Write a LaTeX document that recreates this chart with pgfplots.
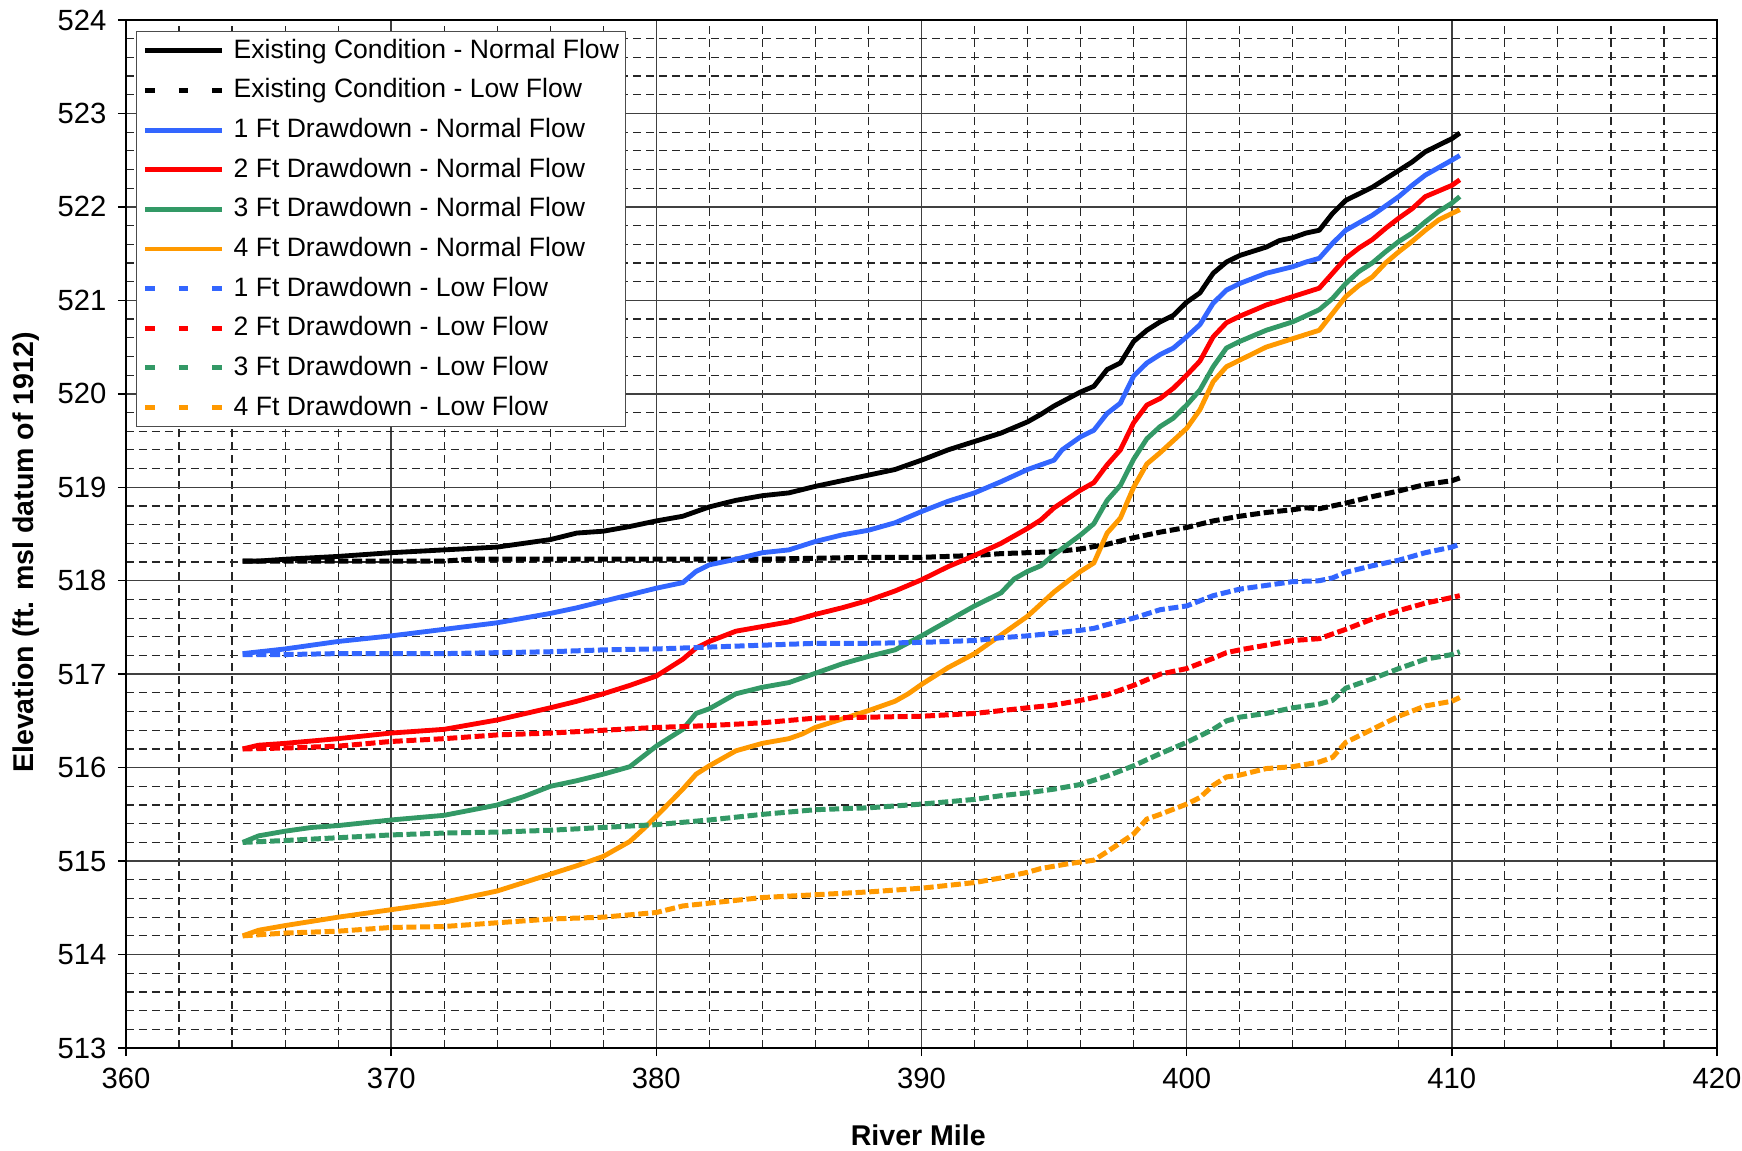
\documentclass[border=0pt]{standalone}
\usepackage{fontspec}
\setmainfont{Liberation Sans}
\usepackage{pgfplots}
\pgfplotsset{compat=1.18}
\definecolor{cblue}{RGB}{51,102,255}
\definecolor{cred}{RGB}{255,0,0}
\definecolor{cgreen}{RGB}{51,153,102}
\definecolor{corange}{RGB}{255,153,0}
\begin{document}
\begin{tikzpicture}
\begin{axis}[
 scale only axis, width=477.3bp, height=308.4bp,
 xmin=360, xmax=420, ymin=513, ymax=524,
 xtick={360,370,...,420}, ytick={513,514,...,524},
 minor x tick num=4, minor y tick num=4,
 grid=both,
 major grid style={black!75, line width=0.45bp},
 minor grid style={black!85, line width=0.35bp, dash pattern=on 2.5bp off 1.4bp},
 axis line style={black, line width=0.55bp},
 tick style={black, line width=0.45bp},
 major tick length=2.4bp, minor tick length=0pt,
 tick align=outside, xtick pos=left, ytick pos=left,
 ticklabel style={font=\fontsize{8.8}{10}\selectfont},
 /pgf/number format/assume math mode=true,
 /pgf/number format/1000 sep={},
 xlabel={River Mile},
 ylabel={Elevation (ft. msl datum of 1912)},
 label style={font=\bfseries\fontsize{8.6}{10}\selectfont},
 xlabel style={at={(axis description cs:0.498,-0.0851)}, anchor=center},
 ylabel style={at={(axis description cs:-0.0629,0.482)}, anchor=center},
 legend cell align=left,
 legend style={at={(axis description cs:0,1)}, anchor=north west, xshift=2.9bp, yshift=-3.3bp,
   draw=black!70, fill=white, inner xsep=2bp, inner ysep=1.5bp,
   font=\fontsize{8.0}{9}\selectfont,
   nodes={inner sep=0pt, text height=6.5bp, text depth=2bp, anchor=west},
   row sep=3.39bp,
   /tikz/every odd column/.append style={column sep=2.7bp}},
 legend image code/.code={\draw[#1] (0bp,0bp) -- (23bp,0bp);},
 every axis plot/.append style={line width=1.45bp, line join=round},
 lowflow/.style={line width=1.5bp, dash pattern=on 3bp off 1.1bp},
 lowleg/.style={legend image post style={dash pattern=on 2.9bp off 7.1bp}},
]
% Existing Condition - Normal Flow
\addplot[black] table {
364.4 518.21
365 518.21
366 518.23
368 518.26
370 518.30
372 518.33
374 518.36
375 518.40
376 518.44
377 518.51
378 518.53
379 518.58
380 518.64
381 518.69
382 518.79
383 518.86
384 518.91
385 518.94
386 519.01
387 519.07
388 519.13
389 519.19
390 519.29
391 519.40
392 519.49
393 519.58
394 519.70
394.5 519.78
395 519.87
396 520.02
396.5 520.08
397 520.26
397.5 520.33
398 520.56
398.5 520.68
399 520.77
399.5 520.84
400 520.98
400.5 521.08
401 521.29
401.5 521.41
402 521.48
403 521.57
403.5 521.64
404 521.67
404.5 521.72
405 521.75
405.5 521.93
406 522.07
406.5 522.14
407 522.21
407.5 522.30
408 522.39
408.5 522.48
409 522.59
409.5 522.66
410 522.73
410.3 522.79
};
\addlegendentry{Existing Condition - Normal Flow}
% Existing Condition - Low Flow
\addplot[black, lowflow, lowleg] table {
364.4 518.21
366 518.21
368 518.21
370 518.21
372 518.21
373 518.23
374 518.23
376 518.23
378 518.23
380 518.23
382 518.23
384 518.23
386 518.24
388 518.25
390 518.25
391 518.26
392 518.27
393 518.29
394 518.30
395 518.31
396 518.34
397 518.39
398 518.46
399 518.52
400 518.57
401 518.64
402 518.69
403 518.73
404 518.76
404.5 518.78
405 518.77
405.5 518.80
406 518.83
407 518.90
408 518.96
409 519.03
410 519.07
410.3 519.10
};
\addlegendentry{Existing Condition - Low Flow}
% 1 Ft - Normal
\addplot[cblue] table {
364.4 517.22
366 517.27
368 517.35
370 517.41
372 517.48
374 517.55
376 517.65
377 517.71
378 517.78
379 517.85
380 517.92
381 517.98
381.5 518.10
382 518.17
383 518.23
384 518.30
385 518.33
386 518.42
387 518.49
388 518.54
389 518.62
390 518.74
391 518.85
392 518.94
393 519.06
394 519.19
395 519.29
395.3 519.40
396 519.54
396.5 519.61
397 519.79
397.5 519.90
398 520.19
398.5 520.33
399 520.42
399.5 520.49
400 520.61
400.5 520.74
401 520.97
401.5 521.11
402 521.18
403 521.29
404 521.36
404.5 521.41
405 521.45
405.5 521.61
406 521.75
407 521.91
408 522.11
408.5 522.23
409 522.34
410 522.50
410.3 522.55
};
\addlegendentry{1 Ft Drawdown - Normal Flow}
% 2 Ft - Normal
\addplot[cred] table {
364.4 516.20
365 516.24
366 516.26
368 516.31
370 516.37
372 516.41
373 516.46
374 516.51
376 516.64
377 516.71
378 516.79
379 516.88
380 516.98
381 517.16
381.5 517.28
382 517.35
383 517.46
384 517.51
385 517.56
386 517.64
387 517.71
388 517.79
389 517.89
390 518.01
391 518.15
392 518.27
393 518.40
394 518.56
394.5 518.65
395 518.78
396 518.97
396.5 519.05
397 519.24
397.5 519.40
398 519.69
398.5 519.88
399 519.95
399.5 520.06
400 520.20
400.5 520.35
401 520.61
401.5 520.76
402 520.83
403 520.95
404 521.04
405 521.13
405.5 521.29
406 521.45
406.5 521.56
407 521.65
407.5 521.77
408 521.88
408.5 521.98
409 522.11
410 522.23
410.3 522.29
};
\addlegendentry{2 Ft Drawdown - Normal Flow}
% 3 Ft - Normal
\addplot[cgreen] table {
364.4 515.20
365 515.27
366 515.32
367 515.36
368 515.38
370 515.44
372 515.49
374 515.60
375 515.69
376 515.80
377 515.86
378 515.93
379 516.01
380 516.23
381 516.41
381.5 516.58
382 516.63
383 516.79
384 516.86
385 516.91
386 517.01
387 517.11
388 517.19
389 517.26
390 517.41
391 517.57
392 517.73
393 517.87
393.5 518.02
394 518.10
394.5 518.16
395 518.28
396 518.49
396.5 518.61
397 518.86
397.5 519.02
398 519.30
398.5 519.52
399 519.65
399.5 519.74
400 519.88
400.5 520.04
401 520.29
401.5 520.49
402 520.56
403 520.68
404 520.77
405 520.90
405.5 521.02
406 521.18
406.5 521.31
407 521.40
407.5 521.52
408 521.63
408.5 521.72
409 521.84
409.5 521.95
410 522.04
410.3 522.11
};
\addlegendentry{3 Ft Drawdown - Normal Flow}
% 4 Ft - Normal
\addplot[corange] table {
364.4 514.20
365 514.26
366 514.31
368 514.40
370 514.48
372 514.56
374 514.68
375 514.77
376 514.86
377 514.95
378 515.05
379 515.21
379.5 515.34
380 515.48
381 515.77
381.5 515.93
382 516.02
383 516.18
384 516.26
385 516.31
385.5 516.36
386 516.43
387 516.52
388 516.61
389 516.71
389.5 516.79
390 516.89
391 517.07
392 517.22
393 517.42
394 517.62
394.5 517.75
395 517.88
396 518.10
396.5 518.19
397 518.51
397.5 518.67
398 519.00
398.5 519.25
399 519.37
399.5 519.50
400 519.63
400.5 519.83
401 520.13
401.5 520.29
402 520.36
402.5 520.43
403 520.50
404 520.59
405 520.68
405.5 520.86
406 521.04
406.5 521.16
407 521.25
407.5 521.40
408 521.52
408.5 521.63
409 521.75
409.5 521.86
410 521.93
410.3 521.97
};
\addlegendentry{4 Ft Drawdown - Normal Flow}
% 1 Ft - Low
\addplot[cblue, lowflow, lowleg] table {
364.4 517.21
366 517.21
368 517.22
370 517.22
372 517.22
374 517.23
376 517.24
378 517.26
380 517.27
382 517.29
384 517.31
386 517.33
388 517.33
390 517.34
392 517.36
393 517.39
394 517.41
395 517.44
396 517.47
396.5 517.49
397 517.53
398 517.60
399 517.69
400 517.73
401 517.84
402 517.91
403 517.95
404 517.99
405 518.00
405.5 518.03
406 518.09
407 518.16
408 518.22
409 518.30
410 518.36
410.3 518.39
};
\addlegendentry{1 Ft Drawdown - Low Flow}
% 2 Ft - Low
\addplot[cred, lowflow, lowleg] table {
364.4 516.20
366 516.21
368 516.23
370 516.28
372 516.31
374 516.35
376 516.37
378 516.40
380 516.43
382 516.45
384 516.48
386 516.53
388 516.54
390 516.55
392 516.58
393 516.61
394 516.64
395 516.67
396 516.72
397 516.78
398 516.88
399 517.00
400 517.06
401 517.17
401.5 517.23
402 517.26
403 517.31
404 517.36
405 517.38
405.5 517.43
406 517.48
407 517.59
408 517.68
409 517.76
410 517.82
410.3 517.84
};
\addlegendentry{2 Ft Drawdown - Low Flow}
% 3 Ft - Low
\addplot[cgreen, lowflow, lowleg] table {
364.4 515.20
366 515.22
368 515.25
370 515.28
372 515.30
374 515.31
376 515.33
378 515.36
380 515.39
382 515.44
384 515.50
386 515.55
388 515.57
390 515.61
392 515.66
393 515.70
394 515.73
395 515.77
396 515.82
397 515.91
398 516.02
399 516.15
400 516.27
401 516.41
401.5 516.50
402 516.54
403 516.58
404 516.64
405 516.68
405.5 516.72
406 516.85
407 516.95
408 517.06
409 517.16
410 517.21
410.3 517.24
};
\addlegendentry{3 Ft Drawdown - Low Flow}
% 4 Ft - Low
\addplot[corange, lowflow, lowleg] table {
364.4 514.20
366 514.23
368 514.25
370 514.29
372 514.30
374 514.34
376 514.38
378 514.40
380 514.45
381 514.52
382 514.55
384 514.61
386 514.64
388 514.67
390 514.71
392 514.77
393 514.82
394 514.88
394.5 514.92
395.5 514.97
396.5 515.01
397 515.10
398 515.29
398.5 515.45
399 515.50
400 515.61
400.5 515.68
401 515.81
401.5 515.90
402 515.92
403 515.99
404 516.01
405 516.06
405.5 516.11
406 516.27
407 516.41
408 516.55
409 516.66
410 516.71
410.3 516.75
};
\addlegendentry{4 Ft Drawdown - Low Flow}
\end{axis}
\pgfresetboundingbox
\path[use as bounding box] ([xshift=-37.8bp,yshift=-30.9bp]current axis.south west) rectangle ([xshift=7.5bp,yshift=6bp]current axis.north east);
\end{tikzpicture}
\end{document}
